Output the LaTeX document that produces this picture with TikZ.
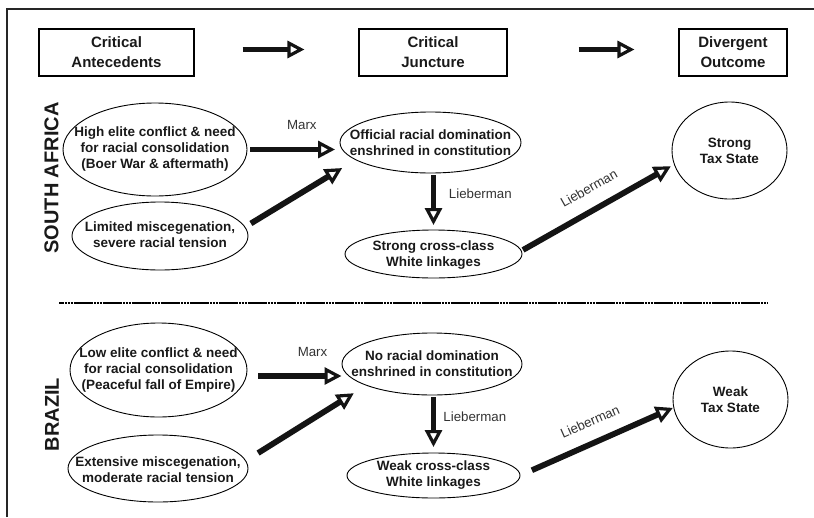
\documentclass[tikz,border=0pt]{standalone}
\usepackage{fontspec}
\setmainfont{Liberation Sans}
\usetikzlibrary{shapes.geometric,arrows.meta,calc}

\begin{document}
\begin{tikzpicture}[x=1pt,y=-1pt,
  oval/.style={ellipse, draw=black, line width=0.9pt, inner sep=0pt, outer sep=0pt},
  body/.style={font=\bfseries\fontsize{13.5}{16}\selectfont, align=center, inner sep=0pt, text=black!90},
  head/.style={draw=black, line width=1.1pt, minimum width=#1, minimum height=47pt,
               inner sep=0pt, align=center, font=\bfseries\fontsize{15}{20}\selectfont, text=black!90},
  country/.style={rotate=90, inner sep=0pt, font=\bfseries\fontsize{20}{24}\selectfont, text=black!90},
  fat/.style={line width=5.8pt, draw=black!92,
              -{Triangle[open,length=17pt,width=17pt,line width=3.2pt]}},
  cite/.style={font=\fontsize{13.3}{16}\selectfont, inner sep=0pt, text=black!80},
  divider/.style={line width=2.6pt, black, dash pattern=on 2.5pt off 0.4pt}
]
\useasboundingbox (0,0) rectangle (814,517);

% frame (top and left rules only)
\draw[line width=1.2pt, black!85] (7,517) -- (7,9) -- (814,9);

% column headings
\node[head=155pt] (H1) at (116.5,52.5) {Critical\\Antecedents};
\node[head=148pt] (H2) at (433,52.5) {Critical\\Juncture};
\node[head=108pt] (H3) at (733,52.5) {Divergent\\Outcome};
\draw[fat, shorten <=48pt, shorten >=54pt] ([yshift=3pt]H1.east) -- ([yshift=3pt]H2.west);
\draw[fat, shorten <=71pt, shorten >=44pt] ([yshift=3pt]H2.east) -- ([yshift=3pt]H3.west);

% ---------------- South Africa ----------------
\node[country] (SA) at (51.5,178) {SOUTH AFRICA};

\node[oval, minimum width=184pt, minimum height=93pt] (A1) at (155,149.5) {};
\node[body] (tA1) at (A1) {High elite conflict \& need\\for racial consolidation\\(Boer War \& aftermath)};

\node[oval, minimum width=176pt, minimum height=68pt] (A2) at (160,236) {};
\node[body] (tA2) at (160,235) {Limited miscegenation,\\severe racial tension};

\node[oval, minimum width=181pt, minimum height=61pt] (J1) at (430.5,142.5) {};
\node[body] (tJ1) at (430.5,143) {Official racial domination\\enshrined in constitution};

\node[oval, minimum width=177pt, minimum height=48pt] (L1) at (433.5,254) {};
\node[body] (tL1) at (433.5,255) {Strong cross-class\\White linkages};

\node[oval, minimum width=115pt, minimum height=97pt] (O1) at (729.5,150.5) {};
\node[body] (tO1) at (O1) {Strong\\Tax State};

\draw[fat, shorten <=3pt, shorten >=5pt] (A1.east) -- (A1.east -| J1.west)
  node[cite, pos=0.59, above=17pt] (mSA) {Marx};
\draw[fat, shorten <=7pt, shorten >=16pt] (A2.6) -- (J1.193);
\draw[fat, shorten <=2pt, shorten >=5pt] (J1.south -| L1.north) -- (L1.north)
  node[cite, pos=0.37, right=12.5pt] (vSA) {Lieberman};
\draw[fat, shorten <=2pt, shorten >=4pt] (L1.2) -- (O1.194)
  node[cite, pos=0.51, sloped, above=13.4pt] (dSA) {Lieberman};

% separator
\draw[divider] (59,303) -- (768,303);

% ---------------- Brazil ----------------
\node[country] (BR) at (52,414.5) {BRAZIL};

\node[oval, minimum width=177pt, minimum height=94pt] (B1) at (158.5,370) {};
\node[body] (tB1) at (158.5,370.5) {Low elite conflict \& need\\for racial consolidation\\(Peaceful fall of Empire)};

\node[oval, minimum width=180pt, minimum height=67pt] (B2) at (158,468.5) {};
\node[body] (tB2) at (158,469.5) {Extensive miscegenation,\\moderate racial tension};

\node[oval, minimum width=180pt, minimum height=62pt] (J2) at (432,364) {};
\node[body] (tJ2) at (J2) {No racial domination\\enshrined in constitution};

\node[oval, minimum width=173pt, minimum height=45pt] (L2) at (433.5,475.5) {};
\node[body] (tL2) at (433.5,475) {Weak cross-class\\White linkages};

\node[oval, minimum width=115pt, minimum height=97pt] (O2) at (730.5,399.5) {};
\node[body] (tO2) at (O2) {Weak\\Tax State};

\draw[fat, shorten <=11pt, shorten >=0.5pt] ([yshift=-6pt]B1.east) -- ([yshift=-6pt]B1.east -| J2.west)
  node[cite, pos=0.69, above=16pt] (mBR) {Marx};
\draw[fat, shorten <=14.7pt, shorten >=15pt] (B2.5) -- (J2.198);
\draw[fat, shorten <=2pt, shorten >=6pt] (J2.south -| L2.north) -- (L2.north)
  node[cite, pos=0.38, right=7pt] (vBR) {Lieberman};
\draw[fat, shorten <=13pt, shorten >=1pt] (L2.east) -- (O2.188)
  node[cite, pos=0.51, sloped, above=13pt] (dBR) {Lieberman};
\end{tikzpicture}
\end{document}
